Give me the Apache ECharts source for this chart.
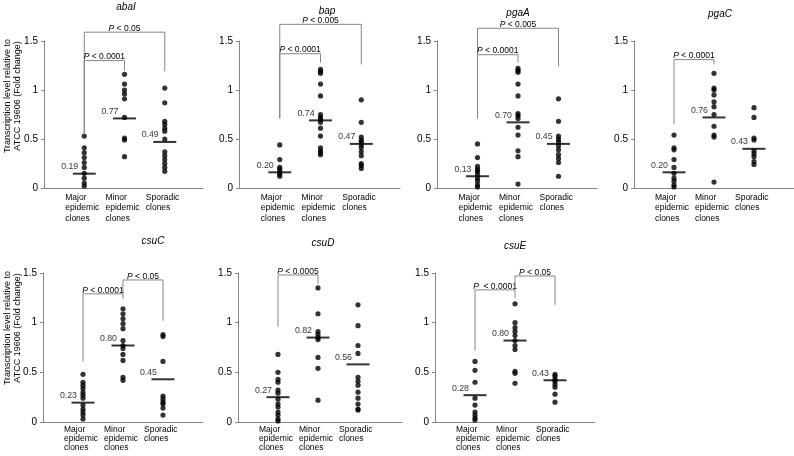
<!DOCTYPE html>
<html><head><meta charset="utf-8">
<script src="https://cdn.jsdelivr.net/npm/echarts@6/dist/echarts.min.js"></script>
<style>html,body{margin:0;padding:0;background:#fff}#c{width:794px;height:456px}</style>
</head><body><div id="c"></div>
<script>
// ---------- DATA ----------
const groups = [["Major","epidemic","clones"],["Minor","epidemic","clones"],["Sporadic","clones"]];
const genes = ["abaI","bap","pgaA","pgaC","csuC","csuD","csuE"];
const yTicks = [0, 0.5, 1, 1.5];
const yTitle = ["Transcription level relative to", "ATCC 19606 (Fold change)"];

const abaI_major = [0.53,0.41,0.36,0.31,0.26,0.21,0.15,0.10,0.05,0.02];
const abaI_minor = [1.16,1.06,1.00,0.96,0.91,0.72,0.51,0.49,0.32];
const abaI_sporadic = [1.02,0.87,0.68,0.65,0.61,0.58,0.50,0.37,0.33,0.29,0.25,0.21,0.17];
const abaI_medianLine = [0.146,0.71,0.47];
const abaI_medianLabel = ["0.19","0.77","0.49"];
const abaI_brackets = [[1,3,1.59,0.56,1.19],[1,2,1.30,0.56,1.20]];
const abaI_bracketLabels = ["P < 0.05","P < 0.0001"];

const bap_major = [0.44,0.29,0.21,0.19,0.16,0.14,0.12];
const bap_minor = [1.21,1.19,1.17,1.06,0.94,0.75,0.72,0.70,0.67,0.61,0.53,0.41,0.38,0.36,0.34];
const bap_sporadic = [0.90,0.67,0.52,0.49,0.47,0.44,0.41,0.37,0.33,0.25,0.23,0.20];
const bap_medianLine = [0.16,0.69,0.45];
const bap_medianLabel = ["0.20","0.74","0.47"];
const bap_brackets = [[1,3,1.67,0.71,1.26],[1,2,1.37,0.71,1.28]];
const bap_bracketLabels = ["P < 0.005","P < 0.0001"];

const pgaA_major = [0.45,0.31,0.22,0.19,0.17,0.14,0.10,0.07,0.03,0.01];
const pgaA_minor = [1.22,1.20,1.18,1.06,0.94,0.76,0.74,0.71,0.62,0.54,0.38,0.32,0.04];
const pgaA_sporadic = [0.91,0.68,0.53,0.50,0.47,0.43,0.39,0.34,0.30,0.26,0.12];
const pgaA_medianLine = [0.12,0.67,0.45];
const pgaA_medianLabel = ["0.13","0.70","0.45"];
const pgaA_brackets = [[1,3,1.63,0.71,1.24],[1,2,1.36,0.71,1.28]];
const pgaA_bracketLabels = ["P < 0.005","P < 0.0001"];

const pgaC_major = [0.54,0.41,0.39,0.29,0.21,0.15,0.10,0.07,0.03,0.01];
const pgaC_minor = [1.17,1.02,1.00,0.95,0.88,0.83,0.75,0.63,0.54,0.52,0.06];
const pgaC_sporadic = [0.82,0.72,0.51,0.49,0.38,0.35,0.32,0.27,0.24];
const pgaC_medianLine = [0.16,0.72,0.40];
const pgaC_medianLabel = ["0.20","0.76","0.43"];
const pgaC_brackets = [[1,2,1.31,0.65,1.26]];
const pgaC_bracketLabels = ["P < 0.0001"];

const csuC_major = [0.48,0.40,0.37,0.34,0.30,0.27,0.24,0.17,0.13,0.10,0.07,0.03];
const csuC_minor = [1.14,1.09,1.04,0.99,0.94,0.82,0.77,0.74,0.68,0.62,0.45,0.42];
const csuC_sporadic = [0.88,0.86,0.61,0.26,0.23,0.20,0.18,0.14,0.07];
const csuC_medianLine = [0.195,0.77,0.43];
const csuC_medianLabel = ["0.23","0.80","0.45"];
const csuC_brackets = [[1,2,1.29,0.61,1.24],[2,3,1.43,1.29,1.02]];
const csuC_bracketLabels = ["P < 0.0001","P < 0.05"];

const csuD_major = [0.68,0.50,0.43,0.40,0.32,0.29,0.23,0.18,0.15,0.10,0.07,0.03,0.01];
const csuD_minor = [1.35,1.09,0.91,0.88,0.85,0.83,0.65,0.54,0.22];
const csuD_sporadic = [1.18,0.97,0.77,0.69,0.45,0.41,0.37,0.30,0.24,0.18,0.13,0.12];
const csuD_medianLine = [0.25,0.85,0.58];
const csuD_medianLabel = ["0.27","0.82","0.56"];
const csuD_brackets = [[1,2,1.48,0.96,1.39]];
const csuD_bracketLabels = ["P < 0.0005"];

const csuE_major = [0.61,0.52,0.40,0.24,0.17,0.10,0.07,0.04,0.02];
const csuE_minor = [1.19,1.00,0.95,0.91,0.87,0.82,0.77,0.73,0.51,0.49,0.39];
const csuE_sporadic = [0.48,0.46,0.43,0.41,0.38,0.35,0.28,0.20];
const csuE_medianLine = [0.27,0.82,0.42];
const csuE_medianLabel = ["0.28","0.80","0.43"];
const csuE_brackets = [[1,2,1.33,0.72,1.25],[2,3,1.47,1.33,1.18]];
const csuE_bracketLabels = ["P  < 0.0001","P < 0.05"];

// ---------- ASSEMBLY ----------
const panels = [
  {dots:[abaI_major,abaI_minor,abaI_sporadic], ml:abaI_medianLine, mlab:abaI_medianLabel, br:abaI_brackets, brl:abaI_bracketLabels},
  {dots:[bap_major,bap_minor,bap_sporadic], ml:bap_medianLine, mlab:bap_medianLabel, br:bap_brackets, brl:bap_bracketLabels},
  {dots:[pgaA_major,pgaA_minor,pgaA_sporadic], ml:pgaA_medianLine, mlab:pgaA_medianLabel, br:pgaA_brackets, brl:pgaA_bracketLabels},
  {dots:[pgaC_major,pgaC_minor,pgaC_sporadic], ml:pgaC_medianLine, mlab:pgaC_medianLabel, br:pgaC_brackets, brl:pgaC_bracketLabels},
  {dots:[csuC_major,csuC_minor,csuC_sporadic], ml:csuC_medianLine, mlab:csuC_medianLabel, br:csuC_brackets, brl:csuC_bracketLabels},
  {dots:[csuD_major,csuD_minor,csuD_sporadic], ml:csuD_medianLine, mlab:csuD_medianLabel, br:csuD_brackets, brl:csuD_bracketLabels},
  {dots:[csuE_major,csuE_minor,csuE_sporadic], ml:csuE_medianLine, mlab:csuE_medianLabel, br:csuE_brackets, brl:csuE_bracketLabels}
];

// layout (pixels)
const layout = [
  {left:44, top:41, width:159, height:147, xMax:3.95, lm:4, lh:10.6},
  {left:239, top:41, width:161, height:147, xMax:3.95, lm:4, lh:10.6},
  {left:437, top:41, width:160, height:147, xMax:3.95, lm:4, lh:10.6},
  {left:634, top:41, width:160, height:147, xMax:4.0, lm:4, lh:10.6},
  {left:43, top:273, width:160, height:149, xMax:4.0, lm:3, lh:9.1},
  {left:238, top:273, width:164, height:149, xMax:4.1, lm:3, lh:9.1},
  {left:435, top:273, width:160, height:149, xMax:4.0, lm:3, lh:9.1}
];
const titlePos = [[126,7.5],[327,11.5],[518,13.5],[720,14],[153,241.5],[323,243],[515,246]];
const yTitlePos = [[12.5,96],[12.5,328]];

const FF = '"Liberation Sans", Arial, Helvetica, sans-serif';
const GRAY = '#858585';

const grids = [], xAxes = [], yAxes = [], series = [];
layout.forEach((L, i) => {
  grids.push({left:L.left, top:L.top, width:L.width, height:L.height, containLabel:false, outerBoundsMode:'none'});
  xAxes.push({
    gridIndex:i, type:'value', min:0, max:L.xMax, interval:1,
    axisLine:{show:true, onZero:false, lineStyle:{color:GRAY, width:1}},
    axisTick:{show:false}, splitLine:{show:false},
    axisLabel:{
      show:true, margin:L.lm, showMinLabel:true, showMaxLabel:true,
      formatter: v => {
        const k = Math.round(v);
        if (Math.abs(v - k) > 1e-6 || k < 1 || k > 3) return '';
        return groups[k-1].map(s => '{a|' + s + '}').join('\n');
      },
      rich:{a:{width:38, align:'left', fontSize:8.5, lineHeight:L.lh, color:'#000', fontFamily:FF}}
    }
  });
  yAxes.push({
    gridIndex:i, type:'value', min:yTicks[0], max:yTicks[yTicks.length-1], interval:yTicks[1]-yTicks[0],
    axisLine:{show:true, lineStyle:{color:GRAY, width:1}},
    axisTick:{show:true, length:3, inside:false, lineStyle:{color:GRAY}},
    splitLine:{show:false},
    axisLabel:{margin:6, fontSize:10, color:'#000', fontFamily:FF, formatter: v => String(v)}
  });
  const P = panels[i];
  const dotData = [];
  P.dots.forEach((arr, g) => arr.forEach(v => dotData.push([g+1, v])));
  series.push({
    type:'scatter', xAxisIndex:i, yAxisIndex:i, data:dotData, symbol:'circle', symbolSize:5.2,
    itemStyle:{color:'#000'}, clip:false, silent:true, z:3
  });
  series.push({
    type:'scatter', xAxisIndex:i, yAxisIndex:i,
    data:P.ml.map((v,g) => [g+1, v]), symbol:'rect', symbolSize:[23,2],
    itemStyle:{color:'#000'}, clip:false, silent:true, z:4,
    label:{show:true, position:'top', align:'right', offset:[-6,0], distance:1.5,
      formatter: p => P.mlab[p.dataIndex], fontSize:8.8, color:'#000', fontFamily:FF}
  });
  series.push({
    type:'custom', xAxisIndex:i, yAxisIndex:i, clip:false, silent:true, z:2,
    data:P.br,
    renderItem:(params, api) => {
      const x1 = api.value(0), x2 = api.value(1), top = api.value(2), lb = api.value(3), rb = api.value(4);
      const a = api.coord([x1, lb]), b = api.coord([x1, top]), c = api.coord([x2, top]), d = api.coord([x2, rb]);
      const lab = P.brl[params.dataIndex];
      const txt = '{i|' + lab.charAt(0) + '}' + lab.slice(1);
      return {type:'group', children:[
        {type:'polyline', shape:{points:[a,b,c,d]}, style:{stroke:GRAY, lineWidth:1, fill:null}},
        {type:'text', x:(b[0]+c[0])/2, y:b[1]+0.8, style:{
          text:txt, align:'center', verticalAlign:'bottom', fontSize:8.5, fontFamily:FF, fill:'#000',
          rich:{i:{fontStyle:'italic', fontSize:8.5, fontFamily:FF, fill:'#000'}}
        }}
      ]};
    }
  });
});

const graphic = [];
genes.forEach((g, i) => {
  graphic.push({type:'text', x:titlePos[i][0], y:titlePos[i][1], silent:true,
    style:{text:g, align:'center', verticalAlign:'middle', fontSize:10, fontStyle:'italic', fontFamily:FF, fill:'#000'}});
});
yTitlePos.forEach(p => {
  graphic.push({type:'text', x:p[0], y:p[1], rotation:Math.PI/2, silent:true,
    style:{text:yTitle.join('\n'), align:'center', verticalAlign:'middle', fontSize:9, lineHeight:10, fontFamily:FF, fill:'#000'}});
});

const chart = echarts.init(document.getElementById('c'), null, {renderer:'canvas'});
chart.setOption({
  animation:false, backgroundColor:'#fff',
  grid:grids, xAxis:xAxes, yAxis:yAxes, series:series, graphic:graphic
});
</script></body></html>
